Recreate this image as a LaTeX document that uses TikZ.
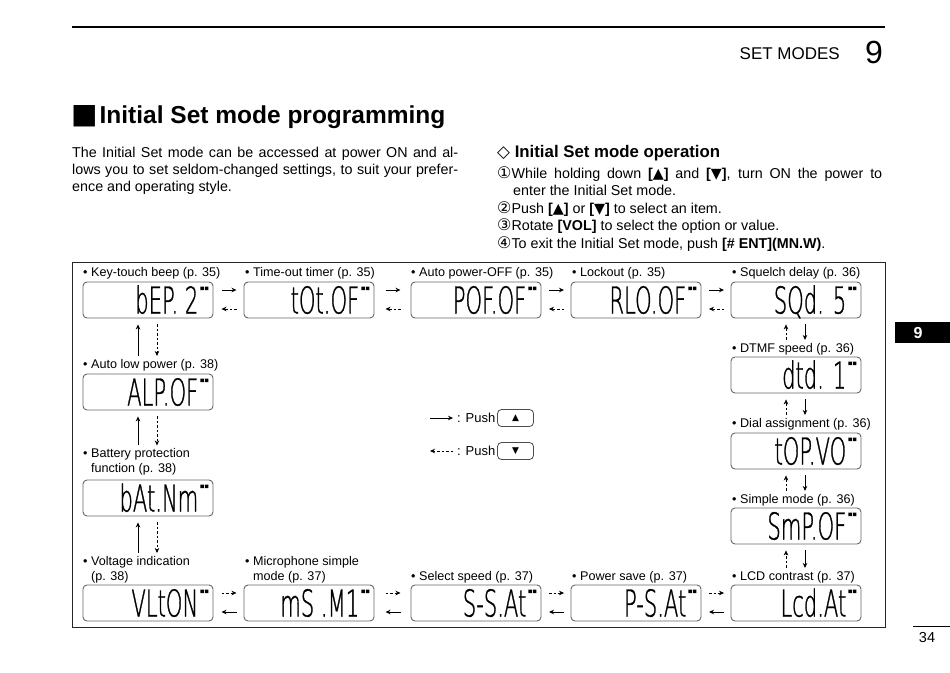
\documentclass[tikz,border=0pt]{standalone}
\usepackage{fontspec}
\setmainfont{Liberation Sans}
\newfontfamily\sym{DejaVu Sans}
\newfontfamily\lcdf[FakeStretch=0.57,FakeBold=0.8]{DejaVu Sans ExtraLight}
\usetikzlibrary{arrows.meta,calc}
\tikzset{
  lcdbox/.style={draw=black!60, line width=0.9pt, rounded corners=4pt, minimum width=130pt, minimum height=36pt, inner sep=0pt},
  lcdtxt/.style={font=\lcdf\fontsize{37}{37}\selectfont, inner sep=0pt, anchor=base east},
  lbl/.style={font=\fontsize{12.6}{15}\selectfont, inner sep=0pt, anchor=west, align=left},
  fwd/.style={line width=0.8pt, -{Stealth[length=5pt,width=4.5pt]}},
  bwd/.style={line width=0.6pt, dash pattern=on 2.5pt off 2pt, -{Stealth[length=5pt,width=4.5pt]}},
  txt/.style={inner sep=0pt, anchor=base west, font=\fontsize{14.3}{17}\selectfont},
  btn/.style={draw=black!70, line width=0.8pt, rounded corners=4pt, minimum width=36pt, minimum height=17pt, inner sep=0pt, font=\sym\fontsize{9}{9}\selectfont},
}
\newcommand\circnum[1]{{\sym\fontsize{16}{16}\selectfont #1}}
\newcommand\lcdunit[4]{%
  \node[lcdbox] (#1) at (#2,#3) {};
  \node[lcdtxt] (#1t) at ($(#1.east)+(-15pt,-13.5pt)$) {#4};
  \fill[black] ($(#1.north east)+(-13pt,-5pt)$) rectangle ++(3.5pt,-3.5pt) ++(1pt,0) rectangle ++(3.5pt,3.5pt);
}
\newcommand\hpair[4]{%
  \draw[#3] ($(#1.east)!.5!(#2.west)+(-7pt,10pt)$) -- ($(#1.east)!.5!(#2.west)+(8pt,10pt)$);
  \draw[#4] ($(#1.east)!.5!(#2.west)+(8pt,-9pt)$) -- ($(#1.east)!.5!(#2.west)+(-7pt,-9pt)$);
}
\newcommand\vpair[4]{%
  \draw[#3] ($(#1.south |- #2.north)+(-10pt,3pt)$) -- ($(#1.south)+(-10pt,-6pt)$);
  \draw[#4] ($(#1.south)+(9pt,-6pt)$) -- ($(#1.south |- #2.north)+(9pt,3pt)$);
}
\begin{document}
\begin{tikzpicture}[x=1pt,y=-1pt]
\useasboundingbox (0,0) rectangle (950,672);
\fill[white] (0,0) rectangle (950,672);

% header
\draw[line width=2pt] (72,27) -- (885,27);
\node[anchor=base east, inner sep=0pt, font=\fontsize{17}{20}\selectfont] (hdr) at (840,59) {SET MODES};
\node[anchor=base west, inner sep=0pt, font=\fontsize{32}{32}\selectfont] (hnum) at (865,63) {9};

% title and text
\node[anchor=base west, inner sep=0pt, font=\bfseries\fontsize{24.5}{28}\selectfont] (title) at (71,123) {{\sym\fontsize{28}{28}\selectfont ■}\hspace{2pt}Initial Set mode programming};
\node[txt] (p1) at (72,157) {\makebox[386pt][s]{The Initial Set mode can be accessed at power ON and al-}};
\node[txt] (p2) at (72,174) {\makebox[386pt][s]{lows you to set seldom-changed settings, to suit your prefer-}};
\node[txt] (p3) at (72,191) {ence and operating style.};

\node[anchor=base west, inner sep=0pt, font=\bfseries\fontsize{16.8}{20}\selectfont] (op) at (497,157) {{\sym ◇}\ Initial Set mode operation};
\node[txt] (s1) at (497,178) {\makebox[385pt][s]{\circnum{①}While holding down \textbf{[{\sym ▲}]} and \textbf{[{\sym ▼}]}, turn ON the power to}};
\node[txt] (s1b) at (513,195.5) {enter the Initial Set mode.};
\node[txt] (s2) at (497,213) {\circnum{②}Push \textbf{[{\sym ▲}]} or \textbf{[{\sym ▼}]} to select an item.};
\node[txt] (s3) at (497,230.5) {\circnum{③}Rotate \textbf{[VOL]} to select the option or value.};
\node[txt] (s4) at (497,248) {\circnum{④}To exit the Initial Set mode, push \textbf{[\# ENT](MN.W)}.};

% frame
\draw[line width=0.8pt, black!85] (72,262) rectangle (885,627);

% displays
\lcdunit{bep}{148}{300}{bEP. 2}
\lcdunit{tot}{309}{300}{tOt.OF}
\lcdunit{pof}{476}{300}{POF.OF}
\lcdunit{rlo}{636}{300}{RLO.OF}
\lcdunit{sqd}{796}{300}{SQd. 5}
\lcdunit{dtmf}{796}{375}{dtd. 1}
\lcdunit{dial}{796}{451}{tOP.VO}
\lcdunit{smp}{796}{526}{SmP.OF}
\lcdunit{lcdc}{796}{603}{Lcd.At}
\lcdunit{psat}{636}{603}{P-S.At}
\lcdunit{ssat}{476}{603}{S-S.At}
\lcdunit{msm}{309}{603}{mS .M1}
\lcdunit{vlt}{148}{603}{VLtON}
\lcdunit{bat}{148}{498}{bAt.Nm}
\lcdunit{alp}{148}{392}{ALP.OF}

% labels
\node[lbl] (lbep) at (83,273) {• Key-touch beep (p. 35)};
\node[lbl] (ltot) at (245,273) {• Time-out timer (p. 35)};
\node[lbl] (lpof) at (411,273) {• Auto power-OFF (p. 35)};
\node[lbl] (lrlo) at (572,273) {• Lockout (p. 35)};
\node[lbl] (lsqd) at (732,273) {• Squelch delay (p. 36)};
\node[lbl] (ldtmf) at (732,349) {• DTMF speed (p. 36)};
\node[lbl] (ldial) at (732,424) {• Dial assignment (p. 36)};
\node[lbl] (lsmp) at (732,500) {• Simple mode (p. 36)};
\node[lbl] (llcdc) at (732,577) {• LCD contrast (p. 37)};
\node[lbl] (lpsat) at (572,577) {• Power save (p. 37)};
\node[lbl] (lssat) at (411,577) {• Select speed (p. 37)};
\node[lbl] (lmsm) at (245,569.5) {• Microphone simple\\\hphantom{• }mode (p. 37)};
\node[lbl] (lvlt) at (83,569.5) {• Voltage indication\\\hphantom{• }(p. 38)};
\node[lbl] (lbat) at (83,462) {• Battery protection\\\hphantom{• }function (p. 38)};
\node[lbl] (lalp) at (83,365) {• Auto low power (p. 38)};

% connectors
\hpair{bep}{tot}{fwd}{bwd}
\hpair{tot}{pof}{fwd}{bwd}
\hpair{pof}{rlo}{fwd}{bwd}
\hpair{rlo}{sqd}{fwd}{bwd}
\vpair{sqd}{ldtmf}{bwd}{fwd}
\vpair{dtmf}{ldial}{bwd}{fwd}
\vpair{dial}{lsmp}{bwd}{fwd}
\vpair{smp}{llcdc}{bwd}{fwd}
\hpair{psat}{lcdc}{bwd}{fwd}
\hpair{ssat}{psat}{bwd}{fwd}
\hpair{msm}{ssat}{bwd}{fwd}
\hpair{vlt}{msm}{bwd}{fwd}
\vpair{bep}{lalp}{fwd}{bwd}
\vpair{alp}{lbat}{fwd}{bwd}
\vpair{bat}{lvlt}{fwd}{bwd}

% legend
\node[lbl, font=\fontsize{13}{15}\selectfont] (push1) at (457,418) {: Push};
\node[btn] (b1) at (515.5,418) {▲};
\draw[fwd] ($(push1.west)+(-27pt,0)$) -- ($(push1.west)+(-4pt,0)$);
\node[lbl, font=\fontsize{13}{15}\selectfont] (push2) at (457,451) {: Push};
\node[btn] (b2) at (515.5,451) {▼};
\draw[bwd] ($(push2.west)+(-4pt,0)$) -- ($(push2.west)+(-27pt,0)$);

% tab and page number
\fill[black] (895,322) rectangle (950,343);
\node[inner sep=0pt, text=white, font=\bfseries\fontsize{16}{16}\selectfont] (tab) at (918,332.5) {9};
\draw[line width=0.6pt] (913,626) -- (950,626);
\node[inner sep=0pt, font=\fontsize{14.5}{16}\selectfont] (pg) at (927,637) {34};
\end{tikzpicture}
\end{document}
